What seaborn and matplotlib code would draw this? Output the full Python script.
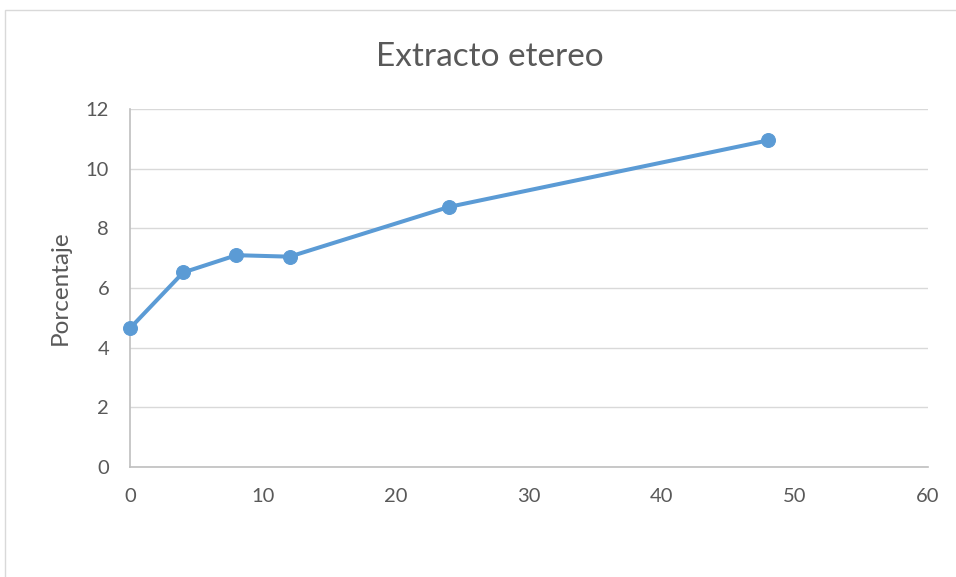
import matplotlib
matplotlib.use("Agg")
import matplotlib.pyplot as plt
import seaborn as sns
import pandas as pd
from matplotlib.patches import Rectangle

# Ether extract over time
horas = [0, 4, 8, 12, 24, 48]
porcentaje = [4.65, 6.52, 7.10, 7.05, 8.72, 10.95]
x_ticks = [0, 10, 20, 30, 40, 50, 60]
y_ticks = [0, 2, 4, 6, 8, 10, 12]

df = pd.DataFrame({"horas": horas, "porcentaje": porcentaje})

sns.set_theme(style="white")
plt.rcParams["font.family"] = ["Lato", "DejaVu Sans"]

W, H = 956, 577
fig = plt.figure(figsize=(W / 100, H / 100), dpi=100)
fig.patch.set_facecolor("white")

# light chart-area frame
fig.add_artist(Rectangle((5 / W, -0.05), 1.1, 1 - 10 / H + 0.05,
                         transform=fig.transFigure, fill=False,
                         edgecolor="#D9D9D9", linewidth=1.0))

ax = fig.add_axes([130 / W, 1 - 467 / H, (928 - 130) / W, (467 - 109) / H])
ax.set_facecolor("white")

sns.lineplot(data=df, x="horas", y="porcentaje", ax=ax, color="#5B9BD5",
             linewidth=2.9, marker="o", markersize=10,
             markeredgecolor="#5B9BD5", markerfacecolor="#5B9BD5",
             clip_on=False, zorder=3)

ax.set_xlim(0, 60)
ax.set_ylim(0, 12)
ax.set_xticks(x_ticks)
ax.set_yticks(y_ticks)
ax.yaxis.grid(True, color="#D9D9D9", linewidth=1.0)
ax.xaxis.grid(False)

for side in ["top", "right"]:
    ax.spines[side].set_visible(False)
for side in ["left", "bottom"]:
    ax.spines[side].set_color("#BFBFBF")
    ax.spines[side].set_linewidth(1.2)

ax.tick_params(axis="both", length=0, labelsize=14.5, colors="#595959")
ax.tick_params(axis="x", pad=15)
ax.tick_params(axis="y", pad=15)

ax.set_xlabel("")
ax.set_ylabel("Porcentaje", fontsize=17.5, color="#595959", labelpad=11)
fig.text(490 / W, 1 - 57 / H, "Extracto etereo", fontsize=24, color="#595959",
         ha="center", va="center")

fig.savefig("out.png", dpi=100, facecolor="white")
